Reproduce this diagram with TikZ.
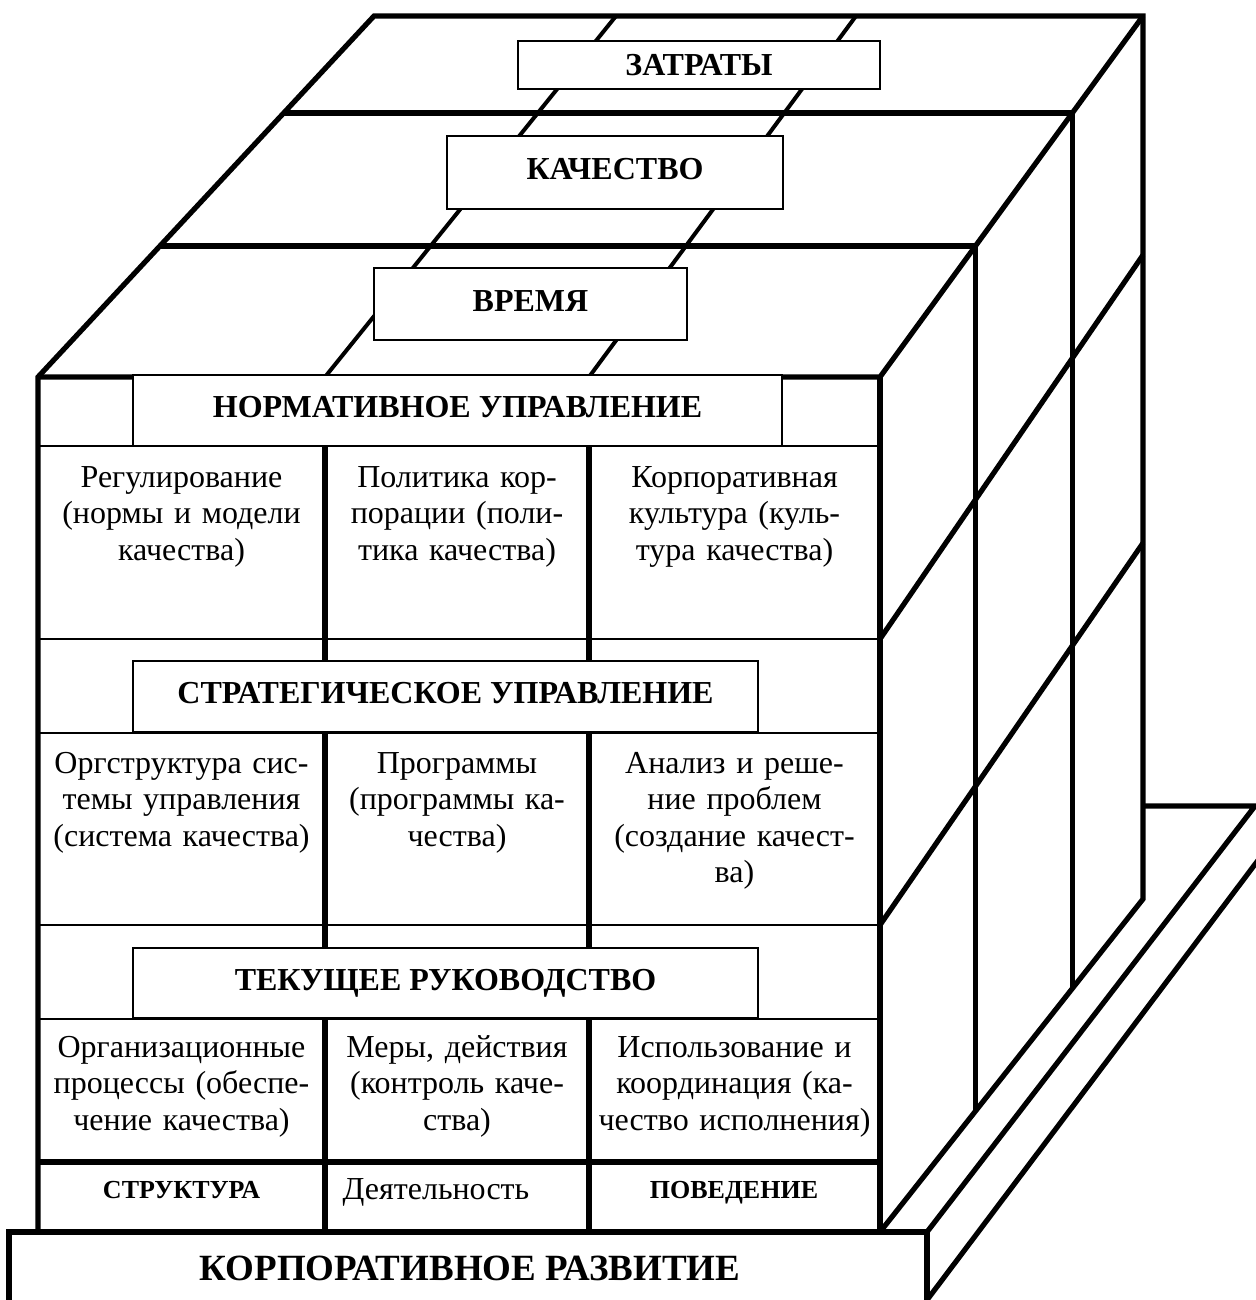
\documentclass[tikz,border=0pt]{standalone}
\usepackage{fontspec}
\setmainfont{Liberation Serif}
\begin{document}
\begin{tikzpicture}[x=0.5pt,y=-0.5pt,
  heavy/.style={line width=2.6pt},
  colln/.style={line width=2.9pt},
  midln/.style={line width=2pt},
  bandln/.style={line width=1.1pt},
  hbox/.style={draw, line width=0.8pt, fill=white, inner sep=0pt,
    font=\bfseries\fontsize{16}{19}\selectfont, text height=10.6pt, text depth=3.5pt},
  cell/.style={text width=150pt, align=center, inner sep=0pt, anchor=base,
    font=\fontsize{16}{18.25}\selectfont},
  smallcap/.style={inner sep=0pt, anchor=base, font=\bfseries\fontsize{13}{15}\selectfont}
]
\useasboundingbox (0,0) rectangle (1256,1300);
\clip (0,0) rectangle (1256,1300);
% ---- top face ----
\draw[midln] (325,377) -- (616,16);
\draw[midln] (589,377) -- (856,16);
\draw[heavy] (283.7,113) -- (1072.3,113) -- (1072.3,988.5);
\draw[heavy] (159.9,246) -- (975.4,246) -- (975.4,1111.2);
\draw[heavy] (38,1232) -- (38,377) -- (374,16) -- (1143,16) -- (1143,899) -- (880,1232);
\draw[heavy] (38,377) -- (880,377) -- (1143,16);
\draw[heavy] (880,377) -- (880,1232);
% ---- right face ----
\draw[heavy] (880,639) -- (1143,255);
\draw[heavy] (880,925) -- (1143,543);
% ---- boxes on top ----
\node[hbox, minimum width=181pt, minimum height=24pt, text depth=0pt] (zat) at (699,65) {ЗАТРАТЫ};
\node[hbox, minimum width=168pt, minimum height=36.5pt] (kach) at (615,172.5) {КАЧЕСТВО};
\node[hbox, minimum width=156.5pt, minimum height=36pt] (vrem) at (530.5,304) {ВРЕМЯ};
% ---- front face ----
\draw[colln] (325,446) -- (325,1232);
\draw[colln] (589,446) -- (589,1232);
\node[hbox, minimum width=324.5pt, minimum height=35.5pt] (norm) at (457.5,410.5) {НОРМАТИВНОЕ УПРАВЛЕНИЕ};
\node[hbox, minimum width=312.5pt, minimum height=35.5pt] (strat) at (445.5,696.5) {СТРАТЕГИЧЕСКОЕ УПРАВЛЕНИЕ};
\node[hbox, minimum width=312.5pt, minimum height=35pt] (tek) at (445.5,983) {ТЕКУЩЕЕ РУКОВОДСТВО};
\foreach \yy in {446,639,733,925,1019} \draw[bandln] (38,\yy) -- (880,\yy);
\draw[heavy] (38,1162) -- (880,1162);
% ---- cells ----
\node[cell] (c11) at (181.5,487) {Регулирование\\(нормы и модели\\качества)};
\node[cell] (c12) at (457,487) {Политика кор-\\порации (поли-\\тика качества)};
\node[cell] (c13) at (734.5,487) {Корпоративная\\культура (куль-\\тура качества)};
\node[cell] (c21) at (181.5,773) {Оргструктура сис-\\темы управления\\(система качества)};
\node[cell] (c22) at (457,773) {Программы\\(программы ка-\\чества)};
\node[cell] (c23) at (734.5,773) {Анализ и реше-\\ние проблем\\(создание качест-\\ва)};
\node[cell] (c31) at (181.5,1057) {Организационные\\процессы (обеспе-\\чение качества)};
\node[cell] (c32) at (457,1057) {Меры, действия\\(контроль каче-\\ства)};
\node[cell] (c33) at (734.5,1057) {Использование и\\координация (ка-\\чество исполнения)};
\node[smallcap] (struct) at (181.5,1198) {СТРУКТУРА};
\node[inner sep=0pt, anchor=base, font=\fontsize{16}{19}\selectfont] (deyat) at (436,1199) {Деятельность};
\node[smallcap] (poved) at (734,1198) {ПОВЕДЕНИЕ};
% ---- base ----
\draw[heavy] (9,1310) -- (9,1232) -- (927,1232) -- (927,1310);
\draw[heavy] (927,1232) -- (1255,806) -- (1143,806);
\draw[heavy] (927,1300) -- (1262,855);
\node[inner sep=0pt, anchor=base, font=\bfseries\fontsize{18.5}{22}\selectfont] (korp) at (470,1280) {КОРПОРАТИВНОЕ РАЗВИТИЕ};
\end{tikzpicture}
\end{document}
